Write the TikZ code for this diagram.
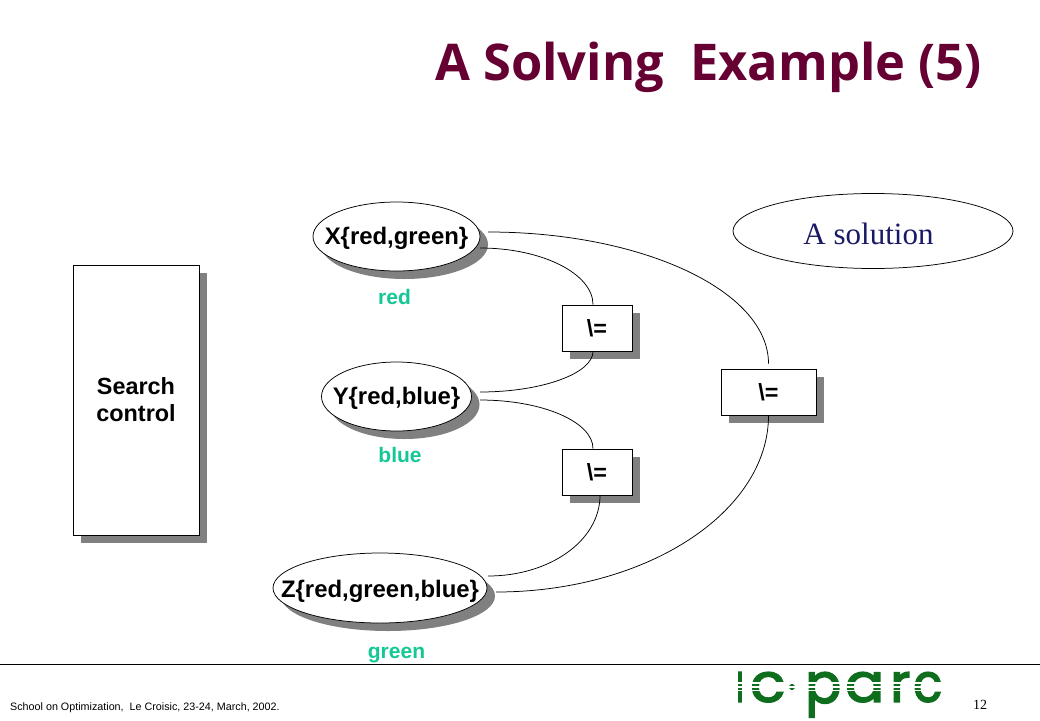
\documentclass[tikz,border=0pt]{standalone}
\usepackage{fontspec}
\usepackage{graphicx}
\setmainfont{Liberation Sans}
\newfontfamily\titlefont{Open Sans}
\newfontfamily\timesfont{Liberation Serif}
\newfontfamily\logofont[FakeBold=3]{Poppins}
\usetikzlibrary{shadows,shapes.geometric}
\definecolor{titlecol}{RGB}{102,0,51}
\definecolor{teal}{RGB}{20,200,150}
\definecolor{navy}{RGB}{25,25,102}
\definecolor{logogreen}{RGB}{14,110,30}
\definecolor{shadowgray}{RGB}{128,128,128}
\newcommand{\ovaltext}[2][-8pt]{\raisebox{#1}[0pt][0pt]{\makebox[0pt][c]{#2}}}
\tikzset{
  shadowed/.style={fill=white,draw=black,line width=0.75pt,inner sep=0pt,
    drop shadow={shadow xshift=8pt,shadow yshift=-8pt,fill=shadowgray,opacity=1}},
  oval/.style={shadowed,ellipse,font=\bfseries\fontsize{23.9}{26}\selectfont},
  rectbox/.style={shadowed,rectangle,font=\bfseries\fontsize{23.4}{27}\selectfont,align=center},
  valuelabel/.style={text=teal,font=\bfseries\fontsize{21}{24}\selectfont,inner sep=0pt},
  wire/.style={draw=black,line width=0.75pt},
  logoletter/.style={anchor=north west,inner sep=0pt,text=logogreen,font=\logofont}
}
\begin{document}
\begin{tikzpicture}[x=1pt,y=-1pt]
\useasboundingbox (0,0) rectangle (1040,720);
\fill[white] (0,0) rectangle (1040,720);
% title
\node[text=titlecol,inner sep=0pt,font=\titlefont\bfseries\fontsize{50.6}{58}\selectfont] (title) at (708.5,67.5) {A Solving\ \ Example (5)};
% nodes
\node[rectbox,minimum width=126pt,minimum height=270pt] (search) at (136,400) {Search\\control};
\node[oval,minimum width=167pt,minimum height=69pt] (x) at (396.5,236.5) {\ovaltext{X\{red,green\}}};
\node[oval,minimum width=150pt,minimum height=69pt] (y) at (396.5,396.5) {\ovaltext{Y\{red,blue\}}};
\node[oval,minimum width=214pt,minimum height=70pt] (z) at (380,588) {\ovaltext[-9.5pt]{Z\{red,green,blue\}}};
\node[rectbox,minimum width=70pt,minimum height=46pt] (b1) at (597,328) {\textbackslash=};
\node[rectbox,minimum width=70pt,minimum height=46pt] (b2) at (597,472) {\textbackslash=};
\node[rectbox,minimum width=95pt,minimum height=46pt] (b3) at (768.5,392) {\textbackslash=};
\node[draw=black,line width=0.75pt,ellipse,minimum width=280pt,minimum height=75pt,inner sep=0pt] (sol) at (873,231) {};
\node[inner sep=0pt,text=navy,font=\timesfont\fontsize{31}{36}\selectfont] (soltext) at (868.5,234) {A solution};
% value labels
\node[valuelabel] (vr) at (394.5,296.5) {red};
\node[valuelabel] (vb) at (400,454.5) {blue};
\node[valuelabel] (vg) at (396.5,655) {green};
% connector ends
\coordinate (x1) at ([shift={(83.5,11.5)}]x.center);
\coordinate (x2) at ([shift={(91.5,-4.5)}]x.center);
\coordinate (y1) at ([shift={(83.5,-4.5)}]y.center);
\coordinate (y2) at ([shift={(83.5,3.5)}]y.center);
\coordinate (z1) at ([shift={(108,-12)}]z.center);
\coordinate (z2) at ([shift={(116,4)}]z.center);
\coordinate (b1t) at ([xshift=-4pt]b1.north);
\coordinate (b1b) at ([xshift=-4pt]b1.south);
\coordinate (b2t) at ([xshift=-4pt]b2.north);
\coordinate (b2b) at ([xshift=3pt]b2.south);
\coordinate (b3t) at ([yshift=5pt]b3.north);
% connectors
\draw[wire] (x1) .. controls +(62,0) and +(0,-31) .. (b1t);
\draw[wire] (y1) .. controls +(62,0) and +(0,22) .. (b1b);
\draw[wire] (y2) .. controls +(62,0) and +(0,-27) .. (b2t);
\draw[wire] (z1) .. controls +(62,0) and +(0,45) .. (b2b);
\draw[wire] (x2) .. controls +(154,0) and +(0,-73) .. (b3t);
\draw[wire] (z2) .. controls +(150,0) and +(0,97) .. (b3.south);
% footer
\draw[line width=0.9pt] (0,664) coordinate (ruleL) -- (1040,664) coordinate (ruleR);
\node[anchor=west,inner sep=0pt,font=\fontsize{10.75}{12}\selectfont] (foot) at (10,707.5) {School on Optimization,\ \ Le Croisic, 23-24, March, 2002.};
\node[inner sep=0pt,font=\timesfont\fontsize{14}{16}\selectfont] (page) at (980,705) {12};
% logo
\node[logoletter] (l1) at (736,672) {\resizebox{7.5pt}{29.5pt}{ı}};
\node[logoletter] (l2) at (750,672) {\resizebox{35pt}{29.5pt}{c}};
\node[fill=logogreen,diamond,inner sep=0pt,minimum width=8pt,minimum height=8pt] (l3) at (792,687) {};
\node[logoletter] (l4) at (805,672) {\resizebox*{36pt}{45pt}{p}};
\node[logoletter] (l5) at (845,672) {\resizebox{39pt}{29.5pt}{a}};
\node[logoletter] (l6) at (890,672) {\resizebox{20pt}{29.5pt}{r}};
\node[logoletter] (l7) at (913,672) {\resizebox{29pt}{29.5pt}{c}};
\draw[white,line width=1.1pt] (734,683) -- (944,683) (734,687) -- (944,687) (734,690.5) -- (944,690.5);
\end{tikzpicture}
\end{document}
